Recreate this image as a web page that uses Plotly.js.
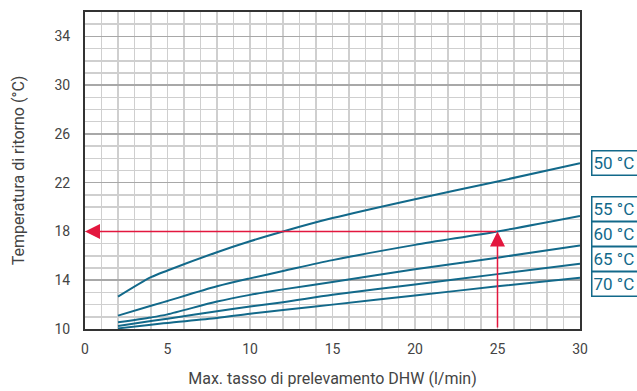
<!DOCTYPE html>
<html>
<head>
<meta charset="utf-8">
<script src="https://cdn.plot.ly/plotly-3.0.1.min.js"></script>
<style>html,body{margin:0;padding:0;background:#fff;}#chart{width:637px;height:391px;}</style>
</head>
<body>
<div id="chart"></div>
<script>
// Flow rate (l/min)
const flow = [2, 4, 5, 8, 10, 12, 15, 20, 25, 30];
// Return temperature (°C) per DHW set temperature
const t50 = [12.65, 14.25, 14.8, 16.3, 17.2, 18.0, 19.1, 20.65, 22.1, 23.6];
const t55 = [11.1, 11.9, 12.3, 13.5, 14.15, 14.75, 15.65, 16.9, 18.0, 19.27];
const t60 = [10.55, 10.95, 11.2, 12.25, 12.8, 13.25, 13.85, 14.9, 15.85, 16.85];
const t65 = [10.25, 10.65, 10.85, 11.45, 11.85, 12.2, 12.8, 13.65, 14.5, 15.35];
const t70 = [10.05, 10.35, 10.5, 10.9, 11.25, 11.55, 12.0, 12.75, 13.5, 14.2];
const seriesNames = ["50 °C", "55 °C", "60 °C", "65 °C", "70 °C"];
const labelY = [23.62, 19.82, 17.77, 15.78, 13.73];
// Example reading: 25 l/min -> 18 °C
const exampleFlow = 25;
const exampleTemp = 18;
const xTicks = [0, 5, 10, 15, 20, 25, 30];
const yTicks = [10, 14, 18, 22, 26, 30, 34];

const blue = '#12698a';
const red = '#e3173e';
const allY = [t50, t55, t60, t65, t70];

const traces = allY.map((ys, i) => ({
  x: flow, y: ys, type: 'scatter', mode: 'lines', name: seriesNames[i],
  line: {color: blue, width: 2, shape: 'spline', smoothing: 0.8},
  hoverinfo: 'skip', showlegend: false
}));

const annotations = [];
seriesNames.forEach((n, i) => {
  annotations.push({
    text: n, xref: 'paper', yref: 'y', x: 1.0222, y: labelY[i],
    xanchor: 'left', yanchor: 'middle', showarrow: false,
    font: {family: 'Roboto, Liberation Sans, sans-serif', size: 17, color: blue, weight: 400},
    bordercolor: blue, borderwidth: 1.5, borderpad: 1, bgcolor: '#fff',
    width: 52, height: 21, align: 'left'
  });
});
// horizontal arrow
annotations.push({
  x: 0, y: exampleTemp, ax: exampleFlow, ay: exampleTemp, xref: 'x', yref: 'y', axref: 'x', ayref: 'y',
  showarrow: true, arrowhead: 2, arrowsize: 2, arrowwidth: 1.5, arrowcolor: red, text: '', standoff: 0
});
// vertical arrow
annotations.push({
  x: exampleFlow, y: exampleTemp, ax: exampleFlow, ay: 10, xref: 'x', yref: 'y', axref: 'x', ayref: 'y',
  showarrow: true, arrowhead: 2, arrowsize: 2, arrowwidth: 1.5, arrowcolor: red, text: '', standoff: 0
});

const font = {family: 'Roboto, sans-serif', size: 14, color: '#444'};
const titleFont = {family: 'Roboto, sans-serif', size: 16, color: '#444'};
const layout = {
  width: 637, height: 391,
  margin: {l: 85, r: 57, t: 12, b: 62},
  paper_bgcolor: '#fff', plot_bgcolor: '#fff',
  font: font,
  showlegend: false,
  xaxis: {
    range: [0, 30], tickvals: xTicks, ticktext: xTicks.map(String),
    showgrid: true, gridcolor: '#cfcfcf', gridwidth: 1.5,
    minor: {dtick: 1, tick0: 0, showgrid: true, gridcolor: '#cfcfcf', gridwidth: 1.5},
    showline: true, mirror: true, linecolor: '#333', linewidth: 2,
    ticks: '', ticklabelstandoff: 6, zeroline: false,
    title: {text: 'Max. tasso di prelevamento DHW (l/min)', font: titleFont, standoff: 17}
  },
  yaxis: {
    range: [10, 36], tickvals: yTicks, ticktext: yTicks.map(String),
    showgrid: true, gridcolor: '#a8a8a8', gridwidth: 1.5,
    minor: {dtick: 1, tick0: 10, showgrid: true, gridcolor: '#cfcfcf', gridwidth: 1.5},
    showline: true, mirror: true, linecolor: '#333', linewidth: 2,
    ticks: '', ticklabelstandoff: 10, zeroline: false,
    title: {text: 'Temperatura di ritorno (°C)', font: titleFont, standoff: 26}
  },
  annotations: annotations
};

Plotly.newPlot('chart', traces, layout, {displayModeBar: false, staticPlot: true});
</script>
</body>
</html>
